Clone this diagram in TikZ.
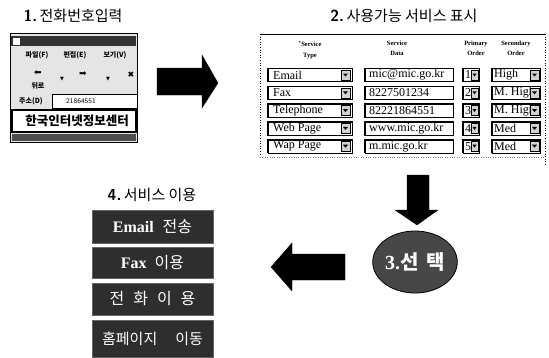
\documentclass[tikz,border=0pt]{standalone}
\usepackage{fontspec}
\usetikzlibrary{shapes.geometric}
\setmainfont{Liberation Serif}
\newfontfamily\kr{Noto Sans CJK KR}
\newfontfamily\sym{DejaVu Sans}
\begin{document}
\begin{tikzpicture}[x=1pt,y=-1pt,
  ttl/.style={font=\kr\fontsize{15}{16}\selectfont, inner sep=0pt},
  fieldst/.style={draw=black, line width=0.4pt, fill=white},
  sunk/.style={line width=1.4pt, line cap=rect},
  ddicon/.style={draw=black, line width=0.3pt, fill=gray!35},
  celltxt/.style={font=\fontsize{12}{12}\selectfont, anchor=west, inner sep=0pt},
  hdr/.style={font=\bfseries\fontsize{6.5}{7}\selectfont, align=center, inner sep=0pt},
  svcbox/.style={fill=black!82, draw=black!60, line width=0.4pt, text=white, minimum width=121pt, inner sep=0pt, font=\fontsize{16}{16}\selectfont},
  blockarrow/.style={fill=black, draw=black, line width=0.3pt}
]
\useasboundingbox (0,0) rectangle (549,357);

% ---------- 1. title and screenshot ----------
\node[ttl] (t1) at (73,16) {{\sffamily\bfseries\fontsize{16}{16}\selectfont 1.}\,전화번호입력};
\draw[line width=0.8pt, fill=gray!20] (10,33) rectangle (137,142);
\fill[black!80] (11,36) rectangle (136,46);
\draw[white, fill=white] (13.5,38) rectangle (19,44);
\node[font=\kr\bfseries\fontsize{7}{7}\selectfont, inner sep=0pt] (m1) at (37,55) {파일(F)};
\node[font=\kr\bfseries\fontsize{7}{7}\selectfont, inner sep=0pt] (m2) at (75,55) {편집(E)};
\node[font=\kr\bfseries\fontsize{7}{7}\selectfont, inner sep=0pt] (m3) at (115,55) {보기(V)};
\node[font=\sym\fontsize{9}{9}\selectfont, inner sep=0pt] (b1) at (38,73) {⬅};
\node[font=\sym\fontsize{5}{5}\selectfont, inner sep=0pt] (b2) at (62,79) {▼};
\node[font=\sym\fontsize{9}{9}\selectfont, inner sep=0pt] (b3) at (83,74) {➡};
\node[font=\sym\fontsize{5}{5}\selectfont, inner sep=0pt] (b4) at (108,79) {▼};
\node[font=\sym\bfseries\fontsize{8}{8}\selectfont, inner sep=0pt] (b5) at (131,75) {✖};
\node[font=\kr\bfseries\fontsize{7}{7}\selectfont, inner sep=0pt] (b6) at (38,86) {뒤로};
\node[font=\kr\bfseries\fontsize{7}{7}\selectfont, inner sep=0pt] (a1) at (31,101) {주소(D)};
\draw[line width=0.5pt, fill=white] (52,94) rectangle (137,108);
\draw[line width=1pt] (52,108) |- (137,94);
\node[font=\sffamily\fontsize{7}{7}\selectfont, inner sep=0pt] (a2) at (81,101) {21864551};
\draw[line width=1.4pt, fill=white] (12,110) rectangle (136,132);
\node[font=\kr\bfseries\fontsize{12.5}{13}\selectfont, inner sep=0pt] (k1) at (77,121) {한국인터넷정보센터};
\fill[black!70] (12,134) rectangle (136,141);

% ---------- right arrow ----------
\draw[blockarrow] (157,68) -- (202,68) -- (202,55) -- (218,83) -- (202,108) -- (202,95) -- (157,95) -- cycle;

% ---------- 2. title and table ----------
\node[ttl] (t2) at (404,16) {{\sffamily\bfseries\fontsize{16}{16}\selectfont 2.}\,사용가능 서비스 표시};
\draw[line width=0.8pt] (260,34) -- (545,34);
\draw[line width=0.6pt, dotted] (260,34) -- (260,156);
\draw[line width=0.6pt, dotted] (545,34) -- (545,166);
\draw[line width=0.4pt, dotted, gray] (260,157) -- (545,157);
\node[hdr] (h1) at (310,50) {\textsuperscript{*}Service\\[4pt]Type};
\node[hdr] (h2) at (397,48) {Service\\[3pt]Data};
\node[hdr] (h3) at (476,48) {Primary\\[3pt]Order};
\node[hdr] (h4) at (516,48) {Secondary\\[3pt]Order};

\foreach \i/\tp/\dt/\po/\so in {0/Email/mic@mic.go.kr/1/High,
  1/Fax/8227501234/2/M. High,
  2/Telephone/82221864551/3/M. High,
  3/Web Page/www.mic.go.kr/4/Med,
  4/Wap Page/m.mic.go.kr/5/Med}{
  \pgfmathsetmacro\y{75+17.8*\i}
  % type
  \draw[fieldst] (268,{\y-6.5}) rectangle (352,{\y+6.5});
  \draw[sunk] (268,{\y+6.5}) |- (352,{\y-6.5});
  \node[celltxt] (tp\i) at (273,\y) {\tp};
  \draw[ddicon] (341,{\y-5}) rectangle (350,{\y+5});
  \fill (343,{\y-1.5}) -- (348,{\y-1.5}) -- (345.5,{\y+1.5}) -- cycle;
  % data
  \draw[fieldst] (365,{\y-6.5}) rectangle (453,{\y+6.5});
  \draw[sunk] (365,{\y+6.5}) |- (453,{\y-6.5});
  \node[celltxt] (dt\i) at (369,\y) {\dt};
  % primary
  \draw[fieldst] (463,{\y-6.5}) rectangle (479,{\y+6.5});
  \draw[sunk] (463,{\y+6.5}) |- (479,{\y-6.5});
  \node[celltxt] (po\i) at (465,\y) {\po};
  \draw[ddicon] (471,{\y-5}) rectangle (478,{\y+5});
  \fill (472.5,{\y-1.5}) -- (476.5,{\y-1.5}) -- (474.5,{\y+1.5}) -- cycle;
  % secondary
  \draw[fieldst] (492,{\y-6.5}) rectangle (540,{\y+6.5});
  \draw[sunk] (492,{\y+6.5}) |- (540,{\y-6.5});
  \node[celltxt] (so\i) at (494,\y) {\so};
  \draw[ddicon] (530,{\y-5}) rectangle (539,{\y+5});
  \fill (532,{\y-1.5}) -- (537,{\y-1.5}) -- (534.5,{\y+1.5}) -- cycle;
}

% ---------- down arrow ----------
\draw[blockarrow] (407,175) -- (429,175) -- (429,210) -- (438,210) -- (417,225) -- (395,210) -- (407,210) -- cycle;

% ---------- 3. select ----------
\node[ellipse, draw=black, line width=0.8pt, fill=black!72, minimum width=77pt, minimum height=62pt, text=white, font=\bfseries\fontsize{20}{20}\selectfont, inner sep=0pt] (sel) at (415,262) {3.{\kr 선\hspace{8pt}택}};

% ---------- left arrow ----------
\draw[blockarrow] (345,254) -- (292,254) -- (292,243) -- (271,267) -- (292,291) -- (292,280) -- (345,280) -- cycle;

% ---------- 4. title and service boxes ----------
\node[ttl] (t4) at (152,195) {{\sffamily\bfseries\fontsize{16}{16}\selectfont 4.}\,서비스 이용};
\node[svcbox, minimum height=33pt] (s1) at (152.5,226.5) {{\bfseries Email}\hspace{9pt}{\kr 전송}};
\node[svcbox, minimum height=31pt] (s2) at (152.5,262.5) {{\bfseries Fax}\hspace{8pt}{\kr 이용}};
\node[svcbox, minimum height=32pt] (s3) at (152.5,299) {\kr 전\hspace{9pt}화\hspace{9pt}이\hspace{9pt}용};
\node[svcbox, minimum height=37pt] (s4) at (152.5,338.5) {\kr\fontsize{15}{15}\selectfont 홈페이지\hspace{18pt}이동};
\end{tikzpicture}
\end{document}
